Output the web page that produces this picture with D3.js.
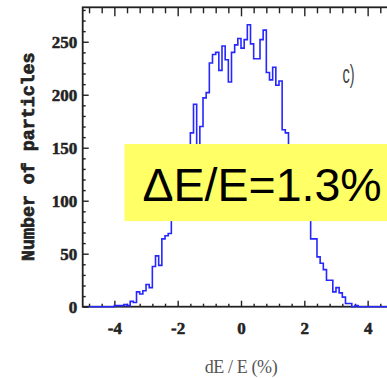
<!DOCTYPE html>
<html><head><meta charset="utf-8">
<script src="https://cdn.jsdelivr.net/npm/d3@7"></script>
<style>html,body{margin:0;padding:0;background:#fff;overflow:hidden}</style>
</head><body>
<svg id="chart" width="387" height="378"></svg>
<script>
// ---- data ----
const binLeft = [-4.8,-4.7,-4.6,-4.5,-4.4,-4.3,-4.2,-4.1,
  -4.0,-3.9,-3.8,-3.7,-3.6,-3.5,-3.4,-3.3,-3.2,-3.1,
  -3.0,-2.9,-2.8,-2.7,-2.6,-2.5,-2.4,-2.3,-2.2,-2.1,
  -2.0,-1.9,-1.8,-1.7,-1.6,-1.5,-1.4,-1.3,-1.2,-1.1,
  -1.0,-0.9,-0.8,-0.7,-0.6,-0.5,-0.4,-0.3,-0.2,-0.1,
  0.0,0.1,0.2,0.3,0.4,0.5,0.6,0.7,0.8,0.9,
  1.0,1.1,1.2,1.3,1.4,1.5,1.6,1.7,1.8,1.9,
  2.0,2.1,2.2,2.3,2.4,2.5,2.6,2.7,2.8,2.9,
  3.0,3.1,3.2,3.3,3.4,3.5,3.6,3.7,3.8,3.9,
  4.0,4.1,4.2,4.3,4.4,4.5,4.6,4.7,4.8];
const counts = [0,0,0,0,0,0,0,0,
  1,1,1,2,1,5,4,14,12,15,
  21,18,38,48,39,64,67,69,95,100,
  118,125,138,148,164,191,145,170,197,202,
  230,238,240,223,246,233,212,240,247,253,
  244,252,266,248,234,234,252,261,221,214,
  226,209,213,167,164,150,140,128,115,105,
  95,86,64,64,47,41,35,25,25,14,
  18,13,9,3,3,0,1,0,0,0,
  0,0,0,0,0,0,0,0,0];
const binWidth = 0.1;
const xMajorTicks = [-4,-2,0,2,4];
const xTickLabels = ["-4","-2","0","2","4"];
const xMinorTicks = [-4.8,-4.4,-3.6,-3.2,-2.8,-2.4,-1.6,-1.2,-0.8,-0.4,0.4,0.8,1.2,1.6,2.4,2.8,3.2,3.6,4.4,4.8];
const yMajorTicks = [0,50,100,150,200,250];
const yTickLabels = ["0","50","100","150","200","250"];
const yMinorTicks = [10,20,30,40,60,70,80,90,110,120,130,140,160,170,180,190,210,220,230,240,260,270,280];
const xTitle = "dE / E (%)";
const yTitle = "Number of particles";
const panelLabel = "c)";
const annotation = "\u0394E/E=1.3%";

// ---- layout ----
const svg = d3.select("#chart");
const L = 82.7, R = 399.3, T = 7.3, B = 306.7;
const x = d3.scaleLinear().domain([-5, 5]).range([L, R]);
const y = d3.scaleLinear().domain([0, 282.5]).range([B, T]);
const axisColor = "#222";

function styleAxis(g) {
  g.select(".domain").remove();
  g.selectAll(".tick line").attr("stroke", axisColor).attr("stroke-width", 1.4);
}
function styleLabels(g) {
  g.selectAll("text").attr("font-family","Liberation Serif").attr("font-weight","bold")
    .attr("font-size",17).attr("fill","#222").attr("stroke","#222").attr("stroke-width",0.5);
}

// bottom
svg.append("g").attr("transform", `translate(0,${B})`)
  .call(d3.axisBottom(x).tickValues(xMajorTicks).tickFormat((d,i)=>xTickLabels[i])
    .tickSizeInner(-6).tickSizeOuter(0).tickPadding(15))
  .call(styleAxis).call(styleLabels);
svg.append("g").attr("transform", `translate(0,${B})`)
  .call(d3.axisBottom(x).tickValues(xMinorTicks).tickFormat("").tickSizeInner(-3).tickSizeOuter(0))
  .call(styleAxis);
// top
svg.append("g").attr("transform", `translate(0,${T})`)
  .call(d3.axisTop(x).tickValues(xMajorTicks).tickFormat("").tickSizeInner(-9).tickSizeOuter(0))
  .call(styleAxis);
svg.append("g").attr("transform", `translate(0,${T})`)
  .call(d3.axisTop(x).tickValues(xMinorTicks).tickFormat("").tickSizeInner(-6).tickSizeOuter(0))
  .call(styleAxis);
// left
svg.append("g").attr("transform", `translate(${L},0)`)
  .call(d3.axisLeft(y).tickValues(yMajorTicks).tickFormat((d,i)=>yTickLabels[i])
    .tickSizeInner(-6).tickSizeOuter(0).tickPadding(5.5))
  .call(styleAxis).call(styleLabels);
svg.append("g").attr("transform", `translate(${L},0)`)
  .call(d3.axisLeft(y).tickValues(yMinorTicks).tickFormat("").tickSizeInner(-3).tickSizeOuter(0))
  .call(styleAxis);

// frame
svg.append("rect").attr("x", L).attr("y", T).attr("width", R - L).attr("height", B - T)
  .attr("fill", "none").attr("stroke", axisColor).attr("stroke-width", 1.8);

// histogram
const pts = binLeft.map((b, i) => [b, counts[i]]);
pts.push([binLeft[binLeft.length - 1] + binWidth, counts[counts.length - 1]]);
svg.append("path").datum(pts)
  .attr("d", d3.line().x(d => x(d[0])).y(d => y(d[1])).curve(d3.curveStepAfter))
  .attr("fill", "none").attr("stroke", "#2626ff").attr("stroke-width", 1.6);

// titles
svg.append("text").attr("transform", "translate(34.3,156.7) rotate(-90)")
  .attr("text-anchor", "middle").attr("font-family", "Liberation Mono").attr("font-weight", "bold")
  .attr("font-size", 18.3).attr("fill", "#222").attr("stroke", "#222").attr("stroke-width", 0.7)
  .text(yTitle);
svg.append("text").attr("x", 241).attr("y", 372.5).attr("text-anchor", "middle")
  .attr("font-family", "Liberation Serif").attr("font-size", 18).attr("letter-spacing", -0.4)
  .attr("fill", "#555").text(xTitle);
svg.append("text").attr("transform", "translate(342.5,82.5) scale(0.58,1)")
  .attr("font-family", "Liberation Sans").attr("font-size", 25).attr("fill", "#444").text(panelLabel);

// annotation box
svg.append("rect").attr("x", x(-3.68)).attr("y", y(153.5))
  .attr("width", 400 - x(-3.68)).attr("height", y(80.8) - y(153.5)).attr("fill", "#ffff66");
svg.append("text").attr("x", 142.5).attr("y", 200.7)
  .attr("font-family", "Liberation Sans").attr("font-size", 46.5).attr("fill", "#000").text(annotation);
</script>
</body></html>
